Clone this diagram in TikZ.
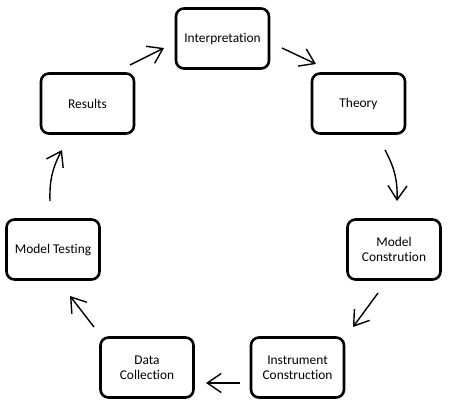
\documentclass[tikz,border=0pt]{standalone}
\usepackage{fontspec}
\setmainfont[Ligatures={NoCommon}]{Carlito}
\usetikzlibrary{arrows.meta}
\begin{document}
\begin{tikzpicture}[x=1pt,y=-1pt,
  box/.style={draw=black, line width=2.6pt, rounded corners=8pt, minimum width=93pt, minimum height=60pt, align=center, font=\fontsize{13.4pt}{14.8pt}\selectfont, inner sep=0pt},
  arr/.style={line width=1.4pt, -{Straight Barb[length=14pt,width=19pt,line width=1.4pt]}}]
\useasboundingbox (0,0) rectangle (449,406);
\node[box] (interp) at (222.5,38.5) {Interpretation};
\node[box] (results) at (87.5,103.5) {Results};
\node[box] (theory) at (358.5,103.5) {Theory};
\node[box] (mtest) at (53,249.5) {Model Testing};
\node[box] (mcons) at (394,249.5) {Model\\Constrution};
\node[box] (data) at (147,367.5) {Data\\Collection};
\node[box] (instr) at (297.5,367.5) {Instrument\\Construction};
% connector end points
\coordinate (a1) at (130,65);  \coordinate (b1) at (164,48);
\coordinate (a2) at (282,48);  \coordinate (b2) at (316,64);
\coordinate (a3) at (385,150); \coordinate (b3) at (397,201);
\coordinate (a4) at (378,293); \coordinate (b4) at (353,327);
\coordinate (a5) at (240,383); \coordinate (b5) at (206,383);
\coordinate (a6) at (94,327);  \coordinate (b6) at (70,296);
\coordinate (a7) at (50,201);  \coordinate (b7) at (62,150);
\draw[arr] (a1) -- (b1);
\draw[arr] (a2) -- (b2);
\draw[arr] (a3) to[bend left=15] (b3);
\draw[arr] (a4) -- (b4);
\draw[arr] (a5) -- (b5);
\draw[arr] (a6) -- (b6);
\draw[arr] (a7) to[bend left=15] (b7);
\end{tikzpicture}
\end{document}
